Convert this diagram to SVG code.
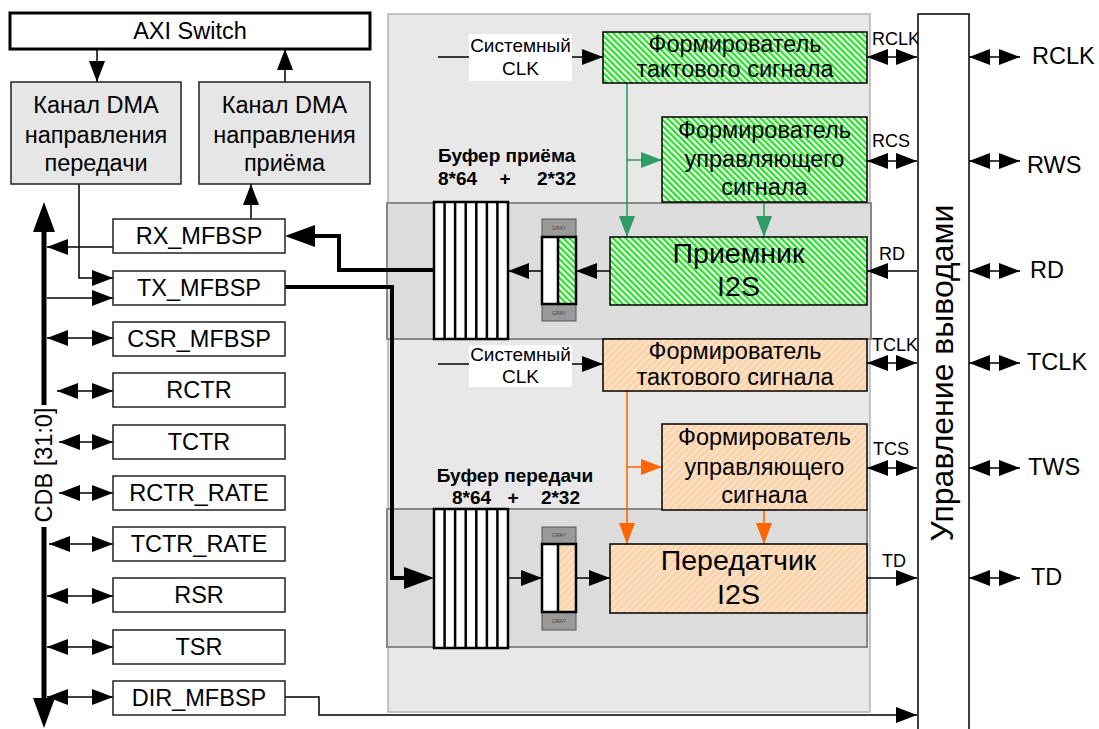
<svg xmlns="http://www.w3.org/2000/svg" width="1099" height="729" viewBox="0 0 1099 729">
<defs>
<style>
.t{font-family:"Liberation Sans",Arial,sans-serif;fill:#000}
.m{text-anchor:middle}
.f23{font-size:23.5px}
.f19{font-size:19px}
.f18{font-size:18px}
.fb{font-size:19px;font-weight:bold}
.box{fill:#fff;stroke:#222;stroke-width:1.5}
.dma{fill:#e6e6e6;stroke:#222;stroke-width:1.5}
.c{fill:none;stroke:#000;stroke-width:1.5}
.cg{fill:none;stroke:#2e9b68;stroke-width:1.6}
.co{fill:none;stroke:#ff6600;stroke-width:1.6}
.fifo{fill:#999;stroke:#555;stroke-width:1}
.gray{font-family:"Liberation Sans",Arial,sans-serif;font-size:5px;fill:#444;text-anchor:middle}
</style>
<marker id="a" markerUnits="userSpaceOnUse" markerWidth="21" markerHeight="16" viewBox="0 0 21 16" refX="21" refY="8" orient="auto-start-reverse"><path d="M0,0L21,8L0,16z" fill="#000"/></marker>
<marker id="ag" markerUnits="userSpaceOnUse" markerWidth="21" markerHeight="16" viewBox="0 0 21 16" refX="21" refY="8" orient="auto"><path d="M0,0L21,8L0,16z" fill="#2e9b68"/></marker>
<marker id="ao" markerUnits="userSpaceOnUse" markerWidth="21" markerHeight="16" viewBox="0 0 21 16" refX="21" refY="8" orient="auto"><path d="M0,0L21,8L0,16z" fill="#ff6600"/></marker>
<marker id="ab" markerUnits="userSpaceOnUse" markerWidth="30" markerHeight="22" viewBox="0 0 30 22" refX="0" refY="11" orient="auto"><path d="M0,0L30,11L0,22z" fill="#000"/></marker>
<pattern id="hg" patternUnits="userSpaceOnUse" width="4.4" height="10" patternTransform="rotate(-45)"><rect width="4.4" height="10" fill="#fff"/><rect width="2.2" height="10" fill="#1ee61e"/></pattern>
<pattern id="ho" patternUnits="userSpaceOnUse" width="5" height="10" patternTransform="rotate(45)"><rect width="5" height="10" fill="#fcd3aa"/><rect width="1.6" height="10" fill="#fee8d2"/></pattern>
</defs>
<rect width="1099" height="729" fill="#fff"/>

<g id="panel-main"><rect x="388" y="14" width="482" height="698" fill="#e8e8e8" stroke="#b3b3b3" stroke-width="1.5"/></g>
<g id="panel-rx"><rect x="387" y="203" width="484" height="136" fill="#dcdcdc" stroke="#888" stroke-width="2"/></g>
<g id="panel-tx"><rect x="387" y="509" width="480" height="138" fill="#dcdcdc" stroke="#888" stroke-width="2"/></g>

<g id="connectors">
<path class="c" d="M97,49V82" marker-end="url(#a)"/>
<path class="c" d="M285,82V49" marker-end="url(#a)"/>
<path class="c" d="M79,184V278H113" marker-end="url(#a)"/>
<path class="c" d="M251,219V184" marker-end="url(#a)"/>
<path d="M44,405V232" stroke="#000" stroke-width="5" fill="none" marker-end="url(#ab)"/>
<path d="M44,527V698" stroke="#000" stroke-width="5" fill="none" marker-end="url(#ab)"/>
<path class="c" d="M113,247H47" marker-end="url(#a)"/>
<path class="c" d="M47,298H113" marker-end="url(#a)"/>
<path class="c" d="M47,338H113" marker-start="url(#a)" marker-end="url(#a)"/>
<path class="c" d="M57,391H113" marker-start="url(#a)" marker-end="url(#a)"/>
<path class="c" d="M59,442H113" marker-start="url(#a)" marker-end="url(#a)"/>
<path class="c" d="M59,493H113" marker-start="url(#a)" marker-end="url(#a)"/>
<path class="c" d="M49,544H113" marker-start="url(#a)" marker-end="url(#a)"/>
<path class="c" d="M47,596H113" marker-start="url(#a)" marker-end="url(#a)"/>
<path class="c" d="M47,647H113" marker-start="url(#a)" marker-end="url(#a)"/>
<path class="c" d="M47,697H113" marker-start="url(#a)" marker-end="url(#a)"/>
<path class="c" d="M285,697H319V715H917" marker-end="url(#a)"/>
<path d="M434,270H339V236H315" stroke="#000" stroke-width="4" fill="none" marker-end="url(#ab)"/>
<path d="M283,287H392V578H404" stroke="#000" stroke-width="4" fill="none" stroke-linecap="round" marker-end="url(#ab)"/>
<path class="c" d="M438,57H603" marker-end="url(#a)"/>
<path class="cg" d="M627,83V237" marker-end="url(#ag)"/>
<path class="cg" d="M627,160H662" marker-end="url(#ag)"/>
<path class="cg" d="M764,202V237" marker-end="url(#ag)"/>
<path class="c" d="M610,271H576" marker-end="url(#a)"/>
<path class="c" d="M541,271H508" marker-end="url(#a)"/>
<path class="c" d="M917,271H867" marker-end="url(#a)"/>
<path class="c" d="M867,57H917" marker-start="url(#a)" marker-end="url(#a)"/>
<path class="c" d="M867,161H917" marker-start="url(#a)" marker-end="url(#a)"/>
<path class="c" d="M438,364H603" marker-end="url(#a)"/>
<path class="co" d="M627,391V544" marker-end="url(#ao)"/>
<path class="co" d="M627,467H662" marker-end="url(#ao)"/>
<path class="co" d="M764,510V544" marker-end="url(#ao)"/>
<path class="c" d="M508,578H542" marker-end="url(#a)"/>
<path class="c" d="M576,578H610" marker-end="url(#a)"/>
<path class="c" d="M867,578H917" marker-end="url(#a)"/>
<path class="c" d="M867,363H917" marker-start="url(#a)" marker-end="url(#a)"/>
<path class="c" d="M867,468H917" marker-start="url(#a)" marker-end="url(#a)"/>
<path class="c" d="M969,57H1020" marker-start="url(#a)" marker-end="url(#a)"/>
<path class="c" d="M969,161H1020" marker-start="url(#a)" marker-end="url(#a)"/>
<path class="c" d="M969,271H1020" marker-start="url(#a)" marker-end="url(#a)"/>
<path class="c" d="M969,363H1020" marker-start="url(#a)" marker-end="url(#a)"/>
<path class="c" d="M969,468H1020" marker-start="url(#a)" marker-end="url(#a)"/>
<path class="c" d="M969,578H1020" marker-start="url(#a)" marker-end="url(#a)"/>
</g>

<g id="cdb-label"><text class="t f23 m" transform="translate(52,465) rotate(-90)">CDB [31:0]</text></g>

<g id="axi-switch"><rect x="10" y="13" width="360" height="36" fill="#fff" stroke="#000" stroke-width="3"/><text class="t f23 m" x="190" y="39">AXI Switch</text></g>
<g id="dma-tx"><rect class="dma" x="11" y="82" width="170" height="102"/><text class="t f23 m" x="96" y="113">Канал DMA</text><text class="t f23 m" x="96" y="143">направления</text><text class="t f23 m" x="96" y="171">передачи</text></g>
<g id="dma-rx"><rect class="dma" x="199" y="82" width="171" height="102"/><text class="t f23 m" x="284.5" y="113">Канал DMA</text><text class="t f23 m" x="284.5" y="143">направления</text><text class="t f23 m" x="284.5" y="171">приёма</text></g>

<g id="rx-mfbsp"><rect class="box" x="113" y="219" width="172" height="34"/><text class="t f23 m" x="199" y="244">RX_MFBSP</text></g>
<g id="tx-mfbsp"><rect class="box" x="113" y="271" width="172" height="34"/><text class="t f23 m" x="199" y="296">TX_MFBSP</text></g>
<g id="csr-mfbsp"><rect class="box" x="113" y="322" width="172" height="34"/><text class="t f23 m" x="199" y="347">CSR_MFBSP</text></g>
<g id="rctr"><rect class="box" x="113" y="373" width="172" height="34"/><text class="t f23 m" x="199" y="398">RCTR</text></g>
<g id="tctr"><rect class="box" x="113" y="425" width="172" height="34"/><text class="t f23 m" x="199" y="450">TCTR</text></g>
<g id="rctr-rate"><rect class="box" x="113" y="476" width="172" height="34"/><text class="t f23 m" x="199" y="501">RCTR_RATE</text></g>
<g id="tctr-rate"><rect class="box" x="113" y="527" width="172" height="34"/><text class="t f23 m" x="199" y="552">TCTR_RATE</text></g>
<g id="rsr"><rect class="box" x="113" y="578" width="172" height="34"/><text class="t f23 m" x="199" y="603">RSR</text></g>
<g id="tsr"><rect class="box" x="113" y="630" width="172" height="34"/><text class="t f23 m" x="199" y="655">TSR</text></g>
<g id="dir-mfbsp"><rect class="box" x="113" y="681" width="172" height="34"/><text class="t f23 m" x="199" y="706">DIR_MFBSP</text></g>

<g id="sysclk-rx"><rect x="469" y="34" width="103" height="47" fill="#fff"/><text class="t f19 m" x="520.5" y="52">Системный</text><text class="t f19 m" x="520.5" y="75">CLK</text></g>
<g id="clkgen-rx"><rect x="603" y="32" width="264" height="51" fill="url(#hg)" stroke="#000" stroke-width="1.5"/><text class="t f23 m" x="735" y="52">Формирователь</text><text class="t f23 m" x="735" y="77">тактового сигнала</text></g>
<g id="ctlgen-rx"><rect x="662" y="117" width="205" height="85" fill="url(#hg)" stroke="#000" stroke-width="1.5"/><text class="t f23 m" x="764.5" y="138">Формирователь</text><text class="t f23 m" x="764.5" y="167">управляющего</text><text class="t f23 m" x="764.5" y="195">сигнала</text></g>
<g id="buf-rx-label"><text class="t fb" x="438" y="162">Буфер приёма</text><text class="t fb" x="438" y="185">8*64</text><text class="t fb m" x="505" y="185">+</text><text class="t fb" x="576" y="185" text-anchor="end">2*32</text></g>
<g id="buf-rx" fill="#fff" stroke="#000" stroke-width="2.5"><rect x="434" y="202" width="74" height="137"/><path d="M444.6,202V339M455.1,202V339M465.7,202V339M476.3,202V339M486.9,202V339M497.4,202V339" fill="none"/></g>
<g id="fifo-rx"><rect class="fifo" x="542" y="219" width="34" height="102"/><text class="gray" x="559" y="230">GRAY</text><text class="gray" x="559" y="315">GRAY</text><rect x="542" y="237" width="16" height="67" fill="#fff"/><rect x="558" y="237" width="18" height="67" fill="url(#hg)"/><rect x="542" y="237" width="34" height="67" fill="none" stroke="#000" stroke-width="2.5"/><path d="M558,237V304" stroke="#000" stroke-width="2.5"/></g>
<g id="receiver"><rect x="610" y="237" width="257" height="68" fill="url(#hg)" stroke="#000" stroke-width="1.5"/><text class="t m" font-size="28.5" x="738.5" y="263">Приемник</text><text class="t m" font-size="28.5" x="738.5" y="296">I2S</text></g>

<g id="sysclk-tx"><rect x="469" y="345" width="103" height="42" fill="#fff"/><text class="t f19 m" x="520.5" y="361">Системный</text><text class="t f19 m" x="520.5" y="383">CLK</text></g>
<g id="clkgen-tx"><rect x="603" y="339" width="264" height="52" fill="url(#ho)" stroke="#000" stroke-width="1.5"/><text class="t f23 m" x="735" y="359">Формирователь</text><text class="t f23 m" x="735" y="385">тактового сигнала</text></g>
<g id="ctlgen-tx"><rect x="662" y="424" width="205" height="86" fill="url(#ho)" stroke="#000" stroke-width="1.5"/><text class="t f23 m" x="764.5" y="445">Формирователь</text><text class="t f23 m" x="764.5" y="475">управляющего</text><text class="t f23 m" x="764.5" y="503">сигнала</text></g>
<g id="buf-tx-label"><text class="t fb m" x="515" y="482">Буфер передачи</text><text class="t fb" x="452" y="504">8*64</text><text class="t fb m" x="513" y="504">+</text><text class="t fb" x="580" y="504" text-anchor="end">2*32</text></g>
<g id="buf-tx" fill="#fff" stroke="#000" stroke-width="2.5"><rect x="434" y="509" width="74" height="139"/><path d="M444.6,509V648M455.1,509V648M465.7,509V648M476.3,509V648M486.9,509V648M497.4,509V648" fill="none"/></g>
<g id="fifo-tx"><rect class="fifo" x="542" y="527" width="34" height="103"/><text class="gray" x="559" y="537">GRAY</text><text class="gray" x="559" y="623">GRAY</text><rect x="542" y="544" width="16" height="68" fill="#fff"/><rect x="558" y="544" width="18" height="68" fill="url(#ho)"/><rect x="542" y="544" width="34" height="68" fill="none" stroke="#000" stroke-width="2.5"/><path d="M558,544V612" stroke="#000" stroke-width="2.5"/></g>
<g id="transmitter"><rect x="610" y="544" width="257" height="69" fill="url(#ho)" stroke="#000" stroke-width="1.5"/><text class="t m" font-size="28.5" x="738.5" y="570">Передатчик</text><text class="t m" font-size="28.5" x="738.5" y="604">I2S</text></g>

<g id="sig-labels"><text class="t f18" x="872" y="45">RCLK</text><text class="t f18" x="872" y="147">RCS</text><text class="t f18" x="879" y="260">RD</text><text class="t f18" x="872" y="351">TCLK</text><text class="t f18" x="873" y="455">TCS</text><text class="t f18" x="882" y="567">TD</text></g>

<g id="pin-control"><rect x="918" y="14" width="51" height="725" fill="#fff" stroke="#000" stroke-width="1.5"/><text class="t m" font-size="32" transform="translate(953,373) rotate(-90)">Управление выводами</text></g>

<g id="pins"><text class="t f23" x="1032" y="64">RCLK</text><text class="t f23" x="1027" y="173">RWS</text><text class="t f23" x="1030" y="278">RD</text><text class="t f23" x="1027" y="370">TCLK</text><text class="t f23" x="1028" y="475">TWS</text><text class="t f23" x="1031" y="585">TD</text></g>
</svg>
